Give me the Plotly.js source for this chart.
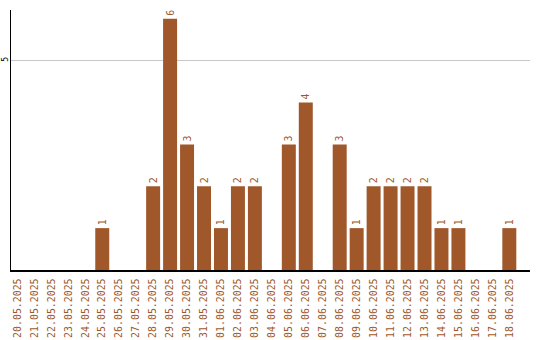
<!DOCTYPE html>
<html>
<head>
<meta charset="utf-8">
<script src="https://cdn.plot.ly/plotly-3.0.1.min.js"></script>
<style>html,body{margin:0;padding:0;background:#fff;}#chart{width:540px;height:340px;}</style>
</head>
<body>
<div id="chart"></div>
<script>
var dates = ["20.05.2025","21.05.2025","22.05.2025","23.05.2025","24.05.2025","25.05.2025","26.05.2025","27.05.2025","28.05.2025","29.05.2025","30.05.2025","31.05.2025","01.06.2025","02.06.2025","03.06.2025","04.06.2025","05.06.2025","06.06.2025","07.06.2025","08.06.2025","09.06.2025","10.06.2025","11.06.2025","12.06.2025","13.06.2025","14.06.2025","15.06.2025","16.06.2025","17.06.2025","18.06.2025"];
var counts = [0,0,0,0,0,1,0,0,2,6,3,2,1,2,2,0,3,4,0,3,1,2,2,2,2,1,1,0,0,1];
var labels = counts.map(function(v){ return v > 0 ? String(v) : ""; });

var brown = "#A0572A";
var trace = {
  type: "bar",
  x: dates,
  y: counts,
  text: labels,
  textposition: "outside",
  textangle: -90,
  cliponaxis: false,
  textfont: {family: "DejaVu Sans Mono", size: 10, color: brown},
  marker: {color: brown},
  hoverinfo: "none"
};
var layout = {
  width: 540, height: 340,
  margin: {l: 10.5, r: 9.5, t: 10, b: 70},
  paper_bgcolor: "#fff", plot_bgcolor: "#fff",
  bargap: 0.176,
  showlegend: false,
  xaxis: {
    type: "category",
    range: [-0.38, 30.22],
    tickangle: -90,
    tickfont: {family: "DejaVu Sans Mono", size: 9.9, color: brown},
    showline: true, linecolor: "#000", linewidth: 1.5,
    ticks: "outside", ticklen: 3, tickcolor: "rgba(0,0,0,0)",
    showgrid: false, zeroline: false, fixedrange: true
  },
  yaxis: {
    range: [0, 6.21],
    tickangle: -90,
    tickfont: {family: "DejaVu Sans Mono", size: 8, color: "#000"},
    showline: true, linecolor: "#000", linewidth: 1.5,
    showgrid: true, gridcolor: "#c8c8c8", gridwidth: 1,
    zeroline: false, ticks: "", showticklabels: true,
    ticklabelstandoff: -2,
    tickvals: [5], ticktext: ["5"],
    fixedrange: true
  }
};
Plotly.newPlot("chart", [trace], layout, {staticPlot: true, displayModeBar: false});
</script>
</body>
</html>
